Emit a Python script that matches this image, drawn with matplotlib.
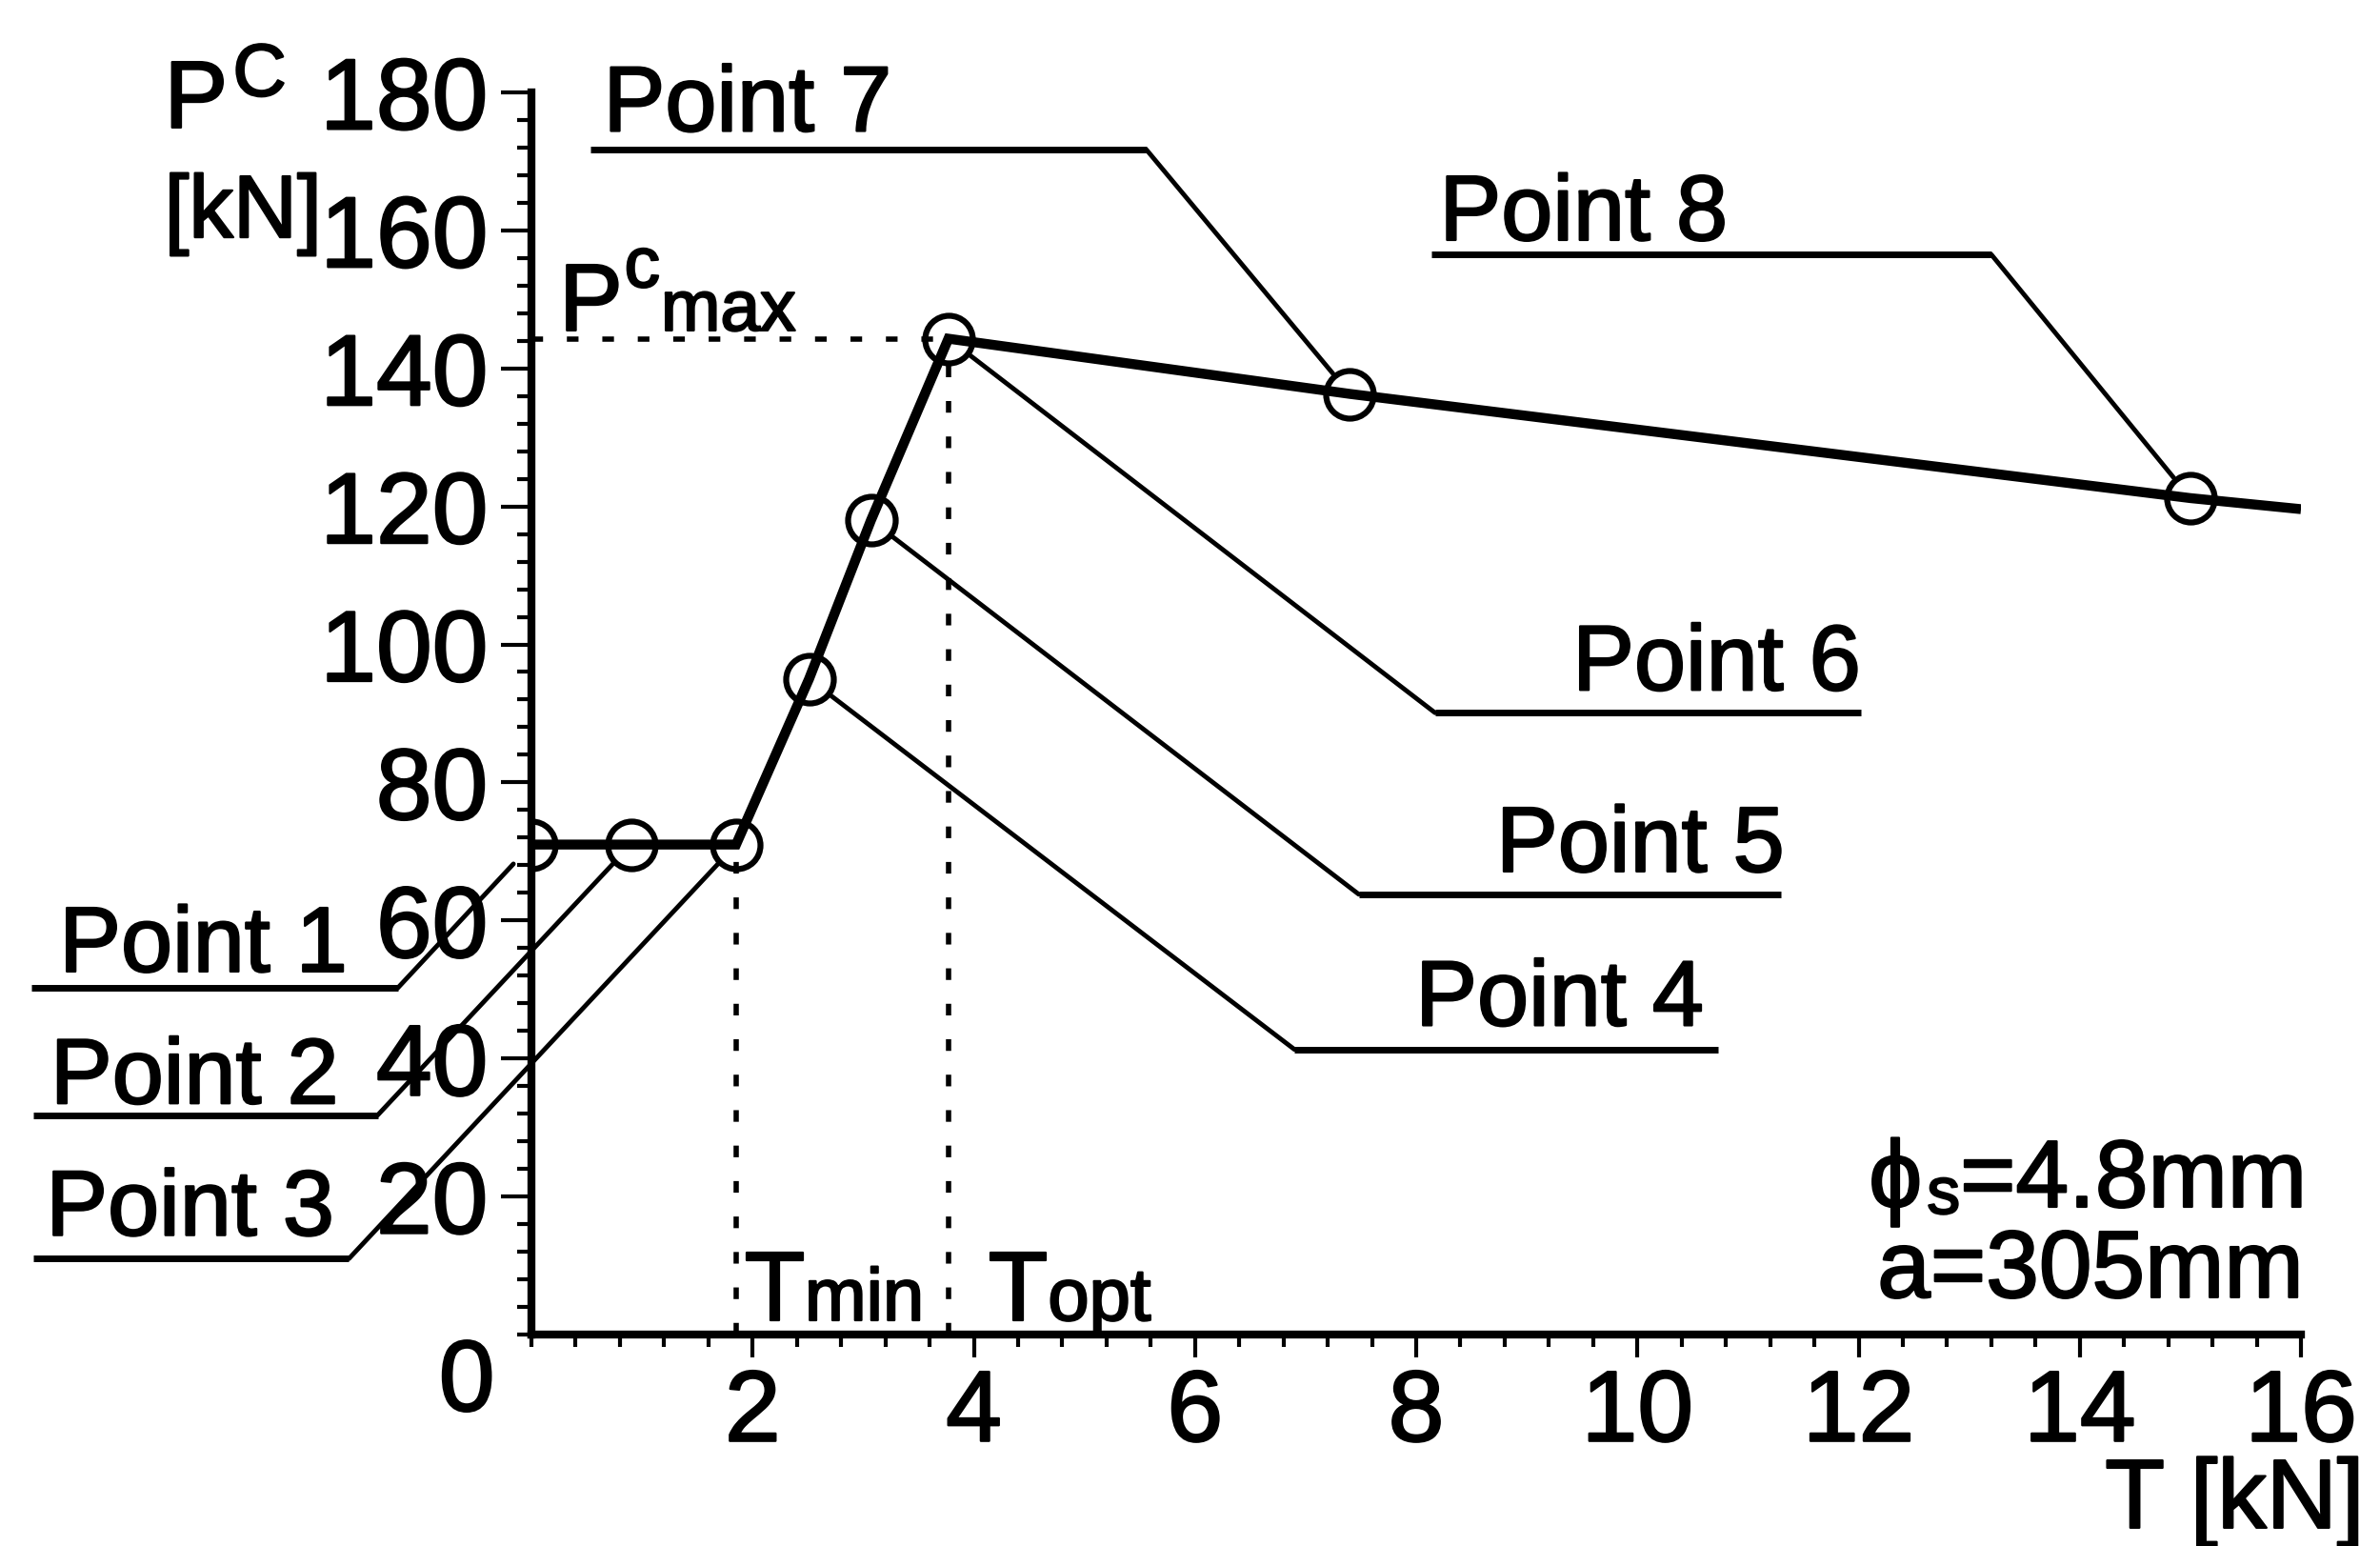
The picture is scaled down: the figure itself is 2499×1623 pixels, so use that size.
import matplotlib
matplotlib.use("Agg")
import matplotlib.pyplot as plt
import matplotlib.patheffects as pe
from matplotlib.ticker import MultipleLocator

plt.rcParams["font.family"] = ["Liberation Sans", "DejaVu Sans"]

# measured points (T in kN, P^c in kN)
tension = [0.0, 0.90, 1.85, 2.51, 3.07, 3.77, 7.40, 15.0]
load = [71.0, 71.0, 71.0, 95.0, 118.0, 144.3, 136.3, 121.2]
point_names = ["Point 1", "Point 2", "Point 3", "Point 4",
               "Point 5", "Point 6", "Point 7", "Point 8"]
# the curve runs on to the end of the axis
tension_end = 16.0
load_end = 119.6

x_ticks = [2, 4, 6, 8, 10, 12, 14, 16]
y_ticks = [20, 40, 60, 80, 100, 120, 140, 160, 180]

# label text position / alignment, underline (x0, x1, y) and which end the leader leaves from
label_pos = {
    "Point 1": (-4.27, 52.6, "left", -4.52, -1.21, 50.2, "right"),
    "Point 2": (-4.35, 33.5, "left", -4.50, -1.39, 31.8, "right"),
    "Point 3": (-4.39, 14.4, "left", -4.50, -1.65, 11.0, "right"),
    "Point 4": (10.60, 44.8, "right", 6.90, 10.73, 41.3, "left"),
    "Point 5": (11.33, 67.1, "right", 7.48, 11.30, 63.8, "left"),
    "Point 6": (12.02, 93.4, "right", 8.17, 12.02, 90.1, "left"),
    "Point 7": (0.65, 174.4, "left", 0.53, 5.56, 171.7, "right"),
    "Point 8": (8.21, 158.6, "left", 8.14, 13.20, 156.5, "right"),
}

thick = [pe.withStroke(linewidth=1.6, foreground="black")]

fig = plt.figure(figsize=(24.99, 16.24), dpi=100)
ax = fig.add_axes([0.2233, 0.1367, 0.7435, 0.803])

ax.plot(tension + [tension_end], load + [load_end], color="black", lw=7.5,
        solid_joinstyle="miter", solid_capstyle="butt", zorder=3)
ax.plot(tension, load, "o", ms=36, mfc="none", mec="black", mew=4.5, zorder=4)

dot = dict(color="black", lw=4, ls=(0, (2.2, 4.5)), zorder=2)
ax.plot([0, tension[5]], [load[5], load[5]], **dot)
ax.plot([tension[2], tension[2]], [0, load[2]], **dot)
ax.plot([tension[5], tension[5]], [0, load[5]], **dot)

for i, name in enumerate(point_names):
    tx, ty, ha, u0, u1, uy, side = label_pos[name]
    ax.text(tx, ty, name, ha=ha, va="baseline", fontsize=70, path_effects=thick)
    ax.plot([u0, u1], [uy, uy], color="black", lw=5, clip_on=False,
            solid_capstyle="butt", zorder=2)
    cx = u1 if side == "right" else u0
    ax.annotate("", xy=(tension[i], load[i]), xytext=(cx, uy),
                arrowprops=dict(arrowstyle="-", lw=3.5, color="black",
                                shrinkA=0, shrinkB=20),
                annotation_clip=False, zorder=2)

ax.set_xlim(0, 16)
ax.set_ylim(0, 180)
ax.spines["top"].set_visible(False)
ax.spines["right"].set_visible(False)
ax.spines["left"].set_linewidth(6)
ax.spines["bottom"].set_linewidth(6)

ax.set_xticks(x_ticks)
ax.set_yticks(y_ticks)
ax.xaxis.set_minor_locator(MultipleLocator(0.4))
ax.yaxis.set_minor_locator(MultipleLocator(4))
ax.tick_params(which="both", width=3, labelsize=76)
ax.tick_params(axis="x", which="major", length=17, pad=8)
ax.tick_params(axis="x", which="minor", length=9)
ax.tick_params(axis="y", which="major", length=23, pad=10)
ax.tick_params(axis="y", which="minor", length=11)
for lab in ax.get_xticklabels() + ax.get_yticklabels():
    lab.set_path_effects(thick)

txt = dict(va="baseline", path_effects=thick, clip_on=False)
ax.text(-0.585, -0.4, "0", ha="center", va="top", fontsize=76, path_effects=thick)

# axis titles
ax.text(-3.32, 174.9, "P", ha="left", fontsize=72, **txt)
ax.text(-2.70, 179.5, "C", ha="left", fontsize=56, **txt)
ax.text(-3.32, 159.0, "[kN]", ha="left", fontsize=67, **txt)
ax.text(16.57, -28.0, "T [kN]", ha="right", fontsize=74, **txt)

# P^c_max and the two tension marks
ax.text(0.25, 145.5, "P", ha="left", fontsize=72, **txt)
ax.text(0.84, 151.8, "c", ha="left", fontsize=54, **txt)
ax.text(1.17, 145.5, "max", ha="left", fontsize=54, **txt)
ax.text(1.93, 2.07, "T", ha="left", fontsize=74, **txt)
ax.text(2.47, 2.07, "min", ha="left", fontsize=56, **txt)
ax.text(4.13, 2.07, "T", ha="left", fontsize=74, **txt)
ax.text(4.67, 2.07, "opt", ha="left", fontsize=56, **txt)

# specimen data
eq = ax.text(16.05, 18.5, "=4.8mm", ha="right", fontsize=72, **txt)
sub = ax.annotate("s", xy=(0, 0), xycoords=eq, ha="right", va="bottom",
                  fontsize=50, path_effects=thick)
ax.annotate("ϕ", xy=(-0.15, 0), xycoords=sub, ha="right", va="bottom",
            fontsize=72, path_effects=thick)
ax.text(16.02, 5.4, "a=305mm", ha="right", fontsize=72, **txt)

fig.savefig("out.png", dpi=100)
